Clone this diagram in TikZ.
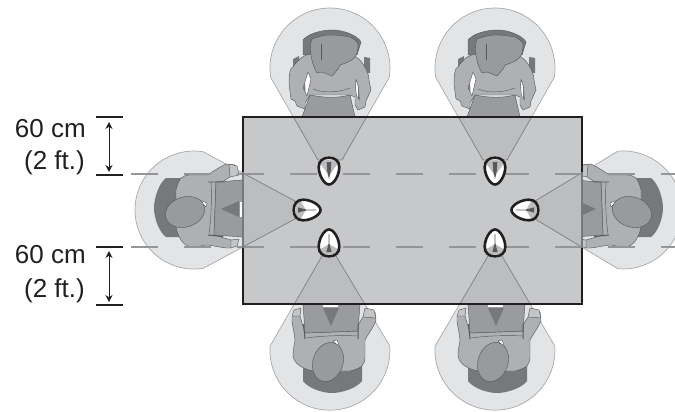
\documentclass[tikz,border=0pt]{standalone}
\usepackage{fontspec}
\setmainfont{Liberation Sans}
\usetikzlibrary{arrows.meta}
\definecolor{inkc}{HTML}{231F20}
\definecolor{tablec}{HTML}{C7C8CA}
\definecolor{conec}{HTML}{BCBDBF}
\definecolor{haloc}{HTML}{E3E4E6}
\definecolor{haloline}{HTML}{A7A9AC}
\definecolor{bodyc}{HTML}{AEB0B3}
\definecolor{lapc}{HTML}{9A9B9E}
\definecolor{hairc}{HTML}{999A9D}
\definecolor{chairc}{HTML}{77787B}
\definecolor{linec}{HTML}{58595B}
\definecolor{dashc}{HTML}{939598}
\definecolor{handc}{HTML}{C4C5C7}
\tikzset{
  halopath/.style={fill=haloc,draw=haloline,line width=.7},
  conepath/.style={fill=conec,draw=dashc!85!black,line width=.7},
  outline/.style={draw=linec,line width=.45,line join=round},
  tabledash/.style={draw=dashc,line width=2.8,dash pattern=on 27 off 26},
  tick/.style={draw=inkc,line width=1.1},
  dimarrow/.style={draw=inkc,line width=1,{Stealth[length=7pt,width=7pt]}-{Stealth[length=7pt,width=7pt]}},
  dimtext/.style={anchor=base east,inner sep=0,text=inkc,font=\fontsize{26}{30}\selectfont},
  persontop/.pic={
    \fill[chairc] (-37,-58) -- (-31,-61) -- (-31,-46) -- (-37,-46) -- cycle;
    \fill[chairc] (34,-60) -- (40,-59) -- (40,-44) -- (34,-44) -- cycle;
    \path[fill=chairc,outline] (-27,-62) -- (-27,-77) .. controls (-22,-83) and (-10,-87) .. (3,-87) .. controls (14,-87) and (28,-81) .. (31,-75) -- (27,-62) -- cycle;
    \path[fill=bodyc,outline] (-41,-33) .. controls (-41,-42) and (-40,-50) .. (-37,-50) .. controls (-32,-58) and (-25,-63) .. (-18,-63) -- (17,-63) .. controls (25,-62) and (30,-58) .. (33,-53) .. controls (37,-47) and (39,-42) .. (39,-37) -- (41,-27) -- (36,-16) -- (35,-10) -- (28,-7) -- (25,-12) -- (25,-20) -- (20,-22) -- (-20,-22) -- (-25,-14) -- (-25,-8) -- (-33,-11) -- (-35,-16) -- (-39,-18) -- cycle;
    \path[fill=lapc,outline] (-20,-22) .. controls (-5,-19) and (8,-19) .. (20,-22) -- (25,0) -- (-28,0) -- cycle;
    \path[draw=linec,line width=.4] (-17,-28) .. controls (-7,-24) and (7,-24) .. (20,-29);
    \path[fill=white,outline] (-22,-45) -- (-19,-38) -- (-23,-21) -- (-27,-29) -- cycle;
    \fill[chairc] (-27,-29) -- (-25,-35) -- (-24.5,-24) -- (-23,-21) -- cycle;
    \path[fill=white,outline] (26,-38) -- (28.5,-30) -- (29.5,-17) -- (26.5,-21) -- (25.5,-30) -- cycle;
    \fill[chairc] (28,-33) -- (28.5,-30) -- (29.5,-17) -- (28,-19) -- cycle;
    \path[fill=white,outline] (-7,-47) -- (0,-43) -- (8,-50) -- cycle;
    \path[fill=hairc,outline] (-18,-78) .. controls (-10,-81) and (-5,-82) .. (0,-82) .. controls (8,-82) and (15,-81) .. (20,-80) .. controls (24,-78) and (27,-76) .. (28,-73) .. controls (28,-66) and (27,-63) .. (25,-60) .. controls (21,-55) and (15,-54) .. (10,-52) -- (8,-48) -- (2,-41) -- (-8,-45) -- (-13,-44) .. controls (-15,-47) and (-16,-50) .. (-17,-53) .. controls (-19,-60) and (-21,-70) .. (-18,-78) -- cycle;
    \draw[linec,line width=.4] (-9,-73) -- (-9,-57);
  },
  personside/.pic={
    \fill[chairc] (-27,62) -- (-27,77) .. controls (-22,84) and (-8,89) .. (2,89) .. controls (12,89) and (27,84) .. (32,77) -- (32,62) -- cycle;
    \path[fill=bodyc,outline] (-38,12) -- (-38,17) .. controls (-37,25) and (-35,32) .. (-35,37) .. controls (-36,42) and (-37,47) .. (-37,52) .. controls (-36,57) and (-33,60) .. (-30,62) .. controls (-25,65) and (-20,67) .. (-15,67) -- (20,67) .. controls (25,66) and (29,64) .. (32,62) .. controls (34,59) and (35,57) .. (35,54) -- (35,36) .. controls (38,30) and (43,24) .. (46,17) -- (45,8) -- (33,13) -- (28,21) -- (28,27) -- (-25,29) -- (-30,12) -- cycle;
    \path[fill=lapc,outline] (-27,0) -- (-25,29) -- (28,27) -- (30,0) -- cycle;
    \fill[chairc] (-7,4) -- (9,4) -- (1,22) -- cycle;
    \fill[white] (-7,0) rectangle (8,3);
    \draw[linec,line width=.45] (-24,34) .. controls (-10,32) and (10,31) .. (28,32);
    \fill[linec] (-27,20) -- (-26,20) -- (-24.5,35) -- (-25.5,35) -- cycle;
    \fill[linec] (27.5,20) -- (28.5,20) -- (28.5,35) -- (27.7,35) -- cycle;
    \path[fill=handc,outline] (-38,12) -- (-36,6) -- (-29,4) -- (-30,12) -- cycle;
    \path[fill=handc,outline] (33,13) -- (35,4) -- (44,6) -- (46,14) -- cycle;
    \path[fill=white,outline] (3,37) -- (7,36) -- (10,44) -- cycle;
    \path[fill=hairc,outline,rotate around={-18:(-2,58)}] (-2,58) ellipse [x radius=15,y radius=20];
  },
  micfat/.pic={
    \path[fill=white] (0,13.5) .. controls (-5,13.5) and (-10.3,4) .. (-10.3,-4) .. controls (-10.3,-10) and (-6,-13.3) .. (0,-13.3) .. controls (6,-13.3) and (10.3,-10) .. (10.3,-4) .. controls (10.3,4) and (5,13.5) .. (0,13.5) -- cycle;
    \fill[conec] (-9,-8) .. controls (-6,-12) and (6,-12) .. (9,-8) -- (0,5) -- cycle;
    \fill[linec] (-2.3,-9) -- (2.3,-9) -- (1.8,0) -- (0,8) -- (-1.8,0) -- cycle;
    \draw[inkc,line width=2.6] (0,13.5) .. controls (-5,13.5) and (-10.3,4) .. (-10.3,-4) .. controls (-10.3,-10) and (-6,-13.3) .. (0,-13.3) .. controls (6,-13.3) and (10.3,-10) .. (10.3,-4) .. controls (10.3,4) and (5,13.5) .. (0,13.5) -- cycle;
  },
  micthin/.pic={
    \path[fill=white] (0,13.5) .. controls (-5,13.5) and (-10.3,4) .. (-10.3,-4) .. controls (-10.3,-10) and (-6,-13.3) .. (0,-13.3) .. controls (6,-13.3) and (10.3,-10) .. (10.3,-4) .. controls (10.3,4) and (5,13.5) .. (0,13.5) -- cycle;
    \fill[conec] (-10,-7) .. controls (-6,-13) and (6,-13) .. (10,-7) -- (0,-1) -- cycle;
    \fill[linec] (-2.6,-9) -- (2.6,-9) -- (.5,-1) -- (.4,9) -- (-.4,9) -- (-.5,-1) -- cycle;
    \draw[inkc,line width=2.6] (0,13.5) .. controls (-5,13.5) and (-10.3,4) .. (-10.3,-4) .. controls (-10.3,-10) and (-6,-13.3) .. (0,-13.3) .. controls (6,-13.3) and (10.3,-10) .. (10.3,-4) .. controls (10.3,4) and (5,13.5) .. (0,13.5) -- cycle;
  }
}
\newcommand{\topAhalo}{(318,160) -- (270.7,77.4) arc[start angle=171,end angle=369,radius=60] -- (342,160) -- cycle}
\newcommand{\topBhalo}{(483,160) -- (435.7,77.4) arc[start angle=171,end angle=369,radius=60] -- (507,160) -- cycle}
\newcommand{\botAhalo}{(322,256) -- (270.1,346) arc[start angle=184,end angle=-4,radius=60] -- (336,256) -- cycle}
\newcommand{\botBhalo}{(488,256) -- (435.1,346) arc[start angle=184,end angle=-4,radius=60] -- (502,256) -- cycle}
\newcommand{\leftHalo}{(295,219) -- (203.2,268.3) arc[start angle=81,end angle=279,radius=59] -- (295,201) -- cycle}
\newcommand{\rightHalo}{(535,201) -- (617.9,151.2) arc[start angle=265,end angle=455,radius=59] -- (535,219) -- cycle}
\begin{document}
\begin{tikzpicture}[x=1pt,y=-1pt]
\useasboundingbox (0,0) rectangle (675,412);
\clip (0,0) rectangle (675,412);
% halos
\foreach \h in {\topAhalo,\topBhalo,\botAhalo,\botBhalo,\leftHalo,\rightHalo}{
  \path[halopath] \h;
}
% people
\pic at (330,117) {persontop};
\pic at (495,117) {persontop};
\pic at (330,304) {personside};
\pic at (495,304) {personside};
\pic[rotate=-90,xscale=-1] at (243,210) {personside};
\pic[rotate=90] at (574,210) {personside};
% table
\fill[tablec] (243,117) rectangle (582,304);
\begin{scope}
  \clip (243,117) rectangle (582,304);
  \foreach \h in {\topAhalo,\topBhalo,\botAhalo,\botBhalo,\leftHalo,\rightHalo}{
    \path[conepath] \h;
  }
\end{scope}
% guide lines
\draw[tabledash] (131,174) -- (675,174);
\draw[tabledash] (131,247) -- (675,247);
% table edge
\draw[inkc,line width=2.4] (243,117) rectangle (582,304);
\draw[chairc,line width=2.4] (243,172) -- (243,248);
\draw[chairc,line width=2.4] (582,172) -- (582,248);
% microphones
\pic at (329,171) {micfat};
\pic at (495,171) {micfat};
\pic[rotate=180] at (329,243) {micthin};
\pic[rotate=180] at (495,243) {micthin};
\pic[rotate=90] at (307,210) {micthin};
\pic[rotate=-90] at (525,210) {micthin};
% dimensions
\node[dimtext] (a1) at (86,137) {60 cm};
\node[dimtext] (a2) at (85,169) {(2 ft.)};
\node[dimtext] (b1) at (86,263) {60 cm};
\node[dimtext] (b2) at (85,297) {(2 ft.)};
\coordinate (t1a) at (96,117); \coordinate (t1b) at (123,117);
\coordinate (t2a) at (96,175); \coordinate (t2b) at (123,175);
\coordinate (t3a) at (96,247); \coordinate (t3b) at (123,247);
\coordinate (t4a) at (96,305); \coordinate (t4b) at (123,305);
\draw[tick] (t1a) -- (t1b);
\draw[tick] (t2a) -- (t2b);
\draw[tick] (t3a) -- (t3b);
\draw[tick] (t4a) -- (t4b);
\coordinate (u1) at (109,122); \coordinate (u2) at (109,172);
\coordinate (u3) at (109,251); \coordinate (u4) at (109,302);
\draw[dimarrow] (u1) -- (u2);
\draw[dimarrow] (u3) -- (u4);
\end{tikzpicture}
\end{document}
